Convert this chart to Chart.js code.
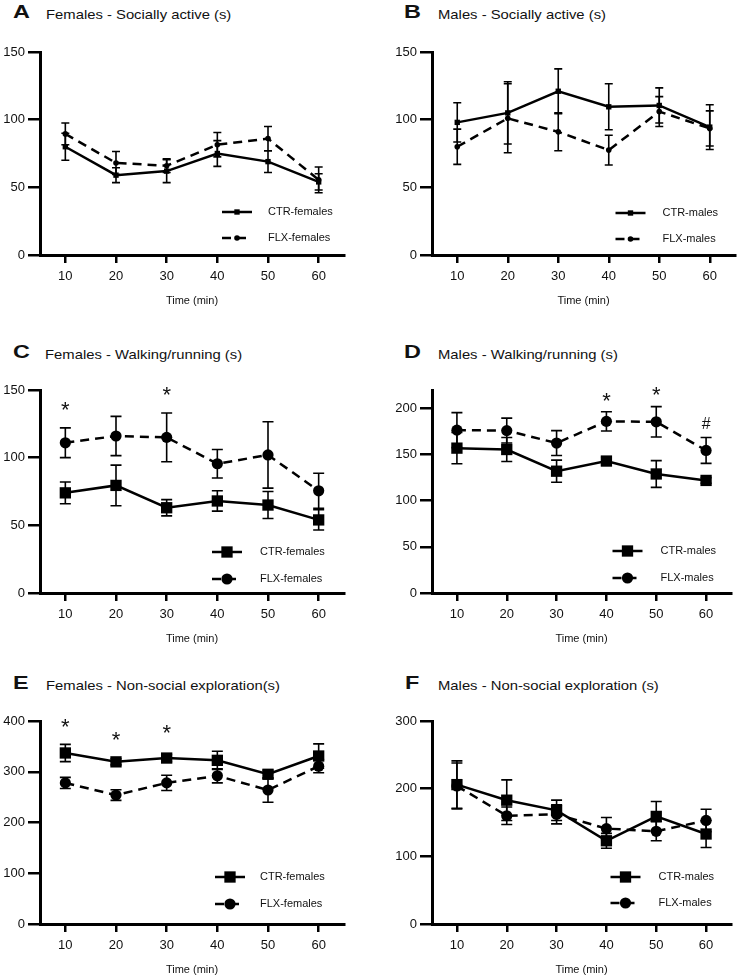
<!DOCTYPE html>
<html><head><meta charset="utf-8">
<script src="https://cdn.jsdelivr.net/npm/chart.js@4.4.0/dist/chart.umd.min.js"></script>
<style>
body{margin:0;background:#fff;width:739px;height:980px;position:relative;overflow:hidden;font-family:"Liberation Sans",Arial,sans-serif;color:#111}
canvas{position:absolute}
.lt{position:absolute;font-weight:bold;font-size:18px;line-height:24px;transform:scaleX(1.3);transform-origin:0 0;white-space:nowrap}
.tt{position:absolute;font-size:13px;line-height:24px;transform:scaleX(1.14);transform-origin:0 0;white-space:nowrap}
</style></head><body>

<div class="lt" style="left:13px;top:0px">A</div><div class="tt" style="left:46px;top:3px">Females - Socially active (s)</div>
<div class="lt" style="left:404px;top:0px">B</div><div class="tt" style="left:438px;top:3px">Males - Socially active (s)</div>
<div class="lt" style="left:13px;top:340px">C</div><div class="tt" style="left:45px;top:343px">Females - Walking/running (s)</div>
<div class="lt" style="left:404px;top:340px">D</div><div class="tt" style="left:438px;top:343px">Males - Walking/running (s)</div>
<div class="lt" style="left:13px;top:671px">E</div><div class="tt" style="left:46px;top:674px">Females - Non-social exploration(s)</div>
<div class="lt" style="left:405px;top:671px">F</div><div class="tt" style="left:438px;top:674px">Males - Non-social exploration (s)</div>

<canvas id="cA" width="370" height="280" style="left:0;top:28px"></canvas>
<canvas id="cB" width="369" height="280" style="left:370px;top:28px"></canvas>
<canvas id="cC" width="370" height="280" style="left:0;top:366px"></canvas>
<canvas id="cD" width="369" height="280" style="left:370px;top:366px"></canvas>
<canvas id="cE" width="370" height="280" style="left:0;top:697px"></canvas>
<canvas id="cF" width="369" height="280" style="left:370px;top:697px"></canvas>

<script>
// ---------- data ----------
const times = [10, 20, 30, 40, 50, 60];

const yTicksSocial = [0, 50, 100, 150];
const yTicksWalkF = [0, 50, 100, 150];
const yTicksWalkM = [0, 50, 100, 150, 200];
const yTicksExplF = [0, 100, 200, 300, 400];
const yTicksExplM = [0, 100, 200, 300];

// A: Females - Socially active
const ctrFemSocial = [80, 59, 62, 75, 69, 54];
const ctrFemSocialSem = [10, 5.5, 8.5, 9.5, 8, 6];
const flxFemSocial = [89.5, 68, 66, 81.5, 86, 55.5];
const flxFemSocialSem = [8, 8.5, 5, 9, 9, 9.5];

// B: Males - Socially active
const ctrMalSocial = [98, 105, 121, 109.5, 110.5, 94.5];
const ctrMalSocialSem = [14.5, 23, 16.5, 17, 13, 16.5];
const flxMalSocial = [80, 101, 91, 77.5, 106, 93.5];
const flxMalSocialSem = [13, 25.5, 14, 11, 11, 13];

// C: Females - Walking/running
const ctrFemWalk = [74, 79.5, 63, 68, 65, 54];
const ctrFemWalkSem = [8, 15, 6, 7.5, 10, 7.5];
const flxFemWalk = [111, 116, 115, 95.5, 102, 75.5];
const flxFemWalkSem = [11, 14.5, 18, 10.5, 24.5, 13];

// D: Males - Walking/running
const ctrMalWalk = [157, 155.5, 132, 143, 129, 122];
const ctrMalWalkSem = [17, 13, 12, 4, 14.5, 3];
const flxMalWalk = [176.5, 176, 162.5, 186, 185.5, 154.5];
const flxMalWalkSem = [19, 13.5, 13.5, 10.5, 16.5, 14];

// E: Females - Non-social exploration
const ctrFemExpl = [337, 319.5, 327, 322.5, 295, 331];
const ctrFemExplSem = [17, 6, 7, 18, 8, 24];
const flxFemExpl = [278, 254, 278, 292, 264, 311];
const flxFemExplSem = [11, 10.5, 15, 14, 24, 13];

// F: Males - Non-social exploration
const ctrMalExpl = [206, 183, 168, 123, 159, 133];
const ctrMalExplSem = [35, 30, 15, 11, 22, 20];
const flxMalExpl = [204, 160, 162, 141, 137, 153];
const flxMalExplSem = [34, 13, 14, 16.5, 14, 16.5];

// significance marks (x, y in data units)
const sigWalkFemX = [10, 30];
const sigWalkFemY = [138, 149];
const sigWalkFemText = ['*', '*'];
const sigWalkMalX = [40, 50, 60];
const sigWalkMalY = [213, 219, 183];
const sigWalkMalText = ['*', '*', '#'];
const sigExplFemX = [10, 20, 30];
const sigExplFemY = [397, 370, 384];
const sigExplFemText = ['*', '*', '*'];

// ---------- plugins ----------
const FAM = '"Liberation Sans", Arial, sans-serif';

function marker(ctx, style, r, x, y) {
  ctx.beginPath();
  if (style === 'rect') {
    const s = Math.SQRT1_2 * r;
    ctx.rect(x - s, y - s, 2 * s, 2 * s);
  } else {
    ctx.arc(x, y, r, 0, Math.PI * 2);
  }
  ctx.fill();
}

const errorBars = {
  id: 'errorBars',
  beforeDatasetsDraw(chart, args, o) {
    const {ctx, scales: {x, y}} = chart;
    const cap = (o && o.cap) || 8;
    ctx.save();
    ctx.strokeStyle = '#000';
    ctx.lineWidth = 1.6;
    chart.data.datasets.forEach(ds => {
      ds.data.forEach((p, i) => {
        const e = ds.errors[i];
        const px = x.getPixelForValue(p.x);
        const y1 = y.getPixelForValue(p.y + e);
        const y2 = y.getPixelForValue(p.y - e);
        ctx.beginPath();
        ctx.moveTo(px, y1); ctx.lineTo(px, y2);
        ctx.moveTo(px - cap / 2, y1); ctx.lineTo(px + cap / 2, y1);
        ctx.moveTo(px - cap / 2, y2); ctx.lineTo(px + cap / 2, y2);
        ctx.stroke();
      });
    });
    ctx.restore();
  }
};

const panelLegend = {
  id: 'panelLegend',
  afterDraw(chart, args, o) {
    if (!o || !o.rows) return;
    const {ctx, chartArea: {right, bottom}} = chart;
    chart.data.datasets.forEach((ds, i) => {
      const yy = bottom + o.rows[i];
      const x1 = right + o.lineStart, x2 = right + o.lineEnd;
      ctx.save();
      ctx.strokeStyle = '#000';
      ctx.fillStyle = '#000';
      ctx.lineWidth = ds.borderWidth;
      ctx.setLineDash(ds.borderDash || []);
      ctx.beginPath(); ctx.moveTo(x1, yy); ctx.lineTo(x2, yy); ctx.stroke();
      ctx.setLineDash([]);
      marker(ctx, ds.pointStyle, ds.pointRadius, (x1 + x2) / 2, yy);
      ctx.fillStyle = '#111';
      ctx.font = '11px ' + FAM;
      ctx.textBaseline = 'middle';
      ctx.textAlign = 'left';
      ctx.fillText(ds.label, right + o.textStart, yy);
      ctx.restore();
    });
  }
};

const sigMarks = {
  id: 'sigMarks',
  afterDatasetsDraw(chart, args, o) {
    if (!o || !o.x) return;
    const {ctx, scales: {x, y}} = chart;
    ctx.save();
    ctx.fillStyle = '#111';
    ctx.textAlign = 'center';
    ctx.textBaseline = 'middle';
    o.x.forEach((v, i) => {
      const isHash = o.text[i] === '#';
      ctx.font = (isHash ? '16px ' : '22px ') + FAM;
      ctx.fillText(o.text[i], x.getPixelForValue(v), y.getPixelForValue(o.y[i]) + (isHash ? 0 : 5));
    });
    ctx.restore();
  }
};

Chart.register(errorBars, panelLegend, sigMarks);

function pts(vals) { return times.map((t, i) => ({x: t, y: vals[i]})); }

function makePanel(id, cfg) {
  const big = cfg.big;
  new Chart(document.getElementById(id), {
    type: 'line',
    data: {
      datasets: [
        {label: cfg.labels[0], data: pts(cfg.ctr), errors: cfg.ctrSem,
         borderColor: '#000', backgroundColor: '#000', pointBackgroundColor: '#000', pointBorderColor: '#000',
         borderWidth: 2.5, pointStyle: 'rect', pointRadius: big ? 8 : 3.8, pointBorderWidth: 0, tension: 0, clip: false},
        {label: cfg.labels[1], data: pts(cfg.flx), errors: cfg.flxSem,
         borderColor: '#000', backgroundColor: '#000', pointBackgroundColor: '#000', pointBorderColor: '#000',
         borderWidth: 2.5, borderDash: [9, 6], pointStyle: 'circle', pointRadius: big ? 5.6 : 2.8, pointBorderWidth: 0, tension: 0, clip: false}
      ]
    },
    options: {
      responsive: false, animation: false, devicePixelRatio: 1,
      layout: {padding: {top: 24, right: cfg.padR, left: 0, bottom: 0}},
      plugins: {
        legend: {display: false}, tooltip: {enabled: false},
        errorBars: {cap: big ? 11 : 8},
        panelLegend: cfg.legend,
        sigMarks: cfg.sig || {}
      },
      scales: {
        x: {
          type: 'linear', min: 5, max: 65,
          afterBuildTicks: s => { s.ticks = times.map(v => ({value: v})); },
          afterFit: s => { s.height = 53; },
          grid: {drawOnChartArea: false, drawTicks: true, tickLength: 8, color: '#000', lineWidth: 2.5},
          border: {display: true, color: '#000', width: 3},
          ticks: {color: '#111', font: {size: 13, family: FAM}, padding: 6, maxRotation: 0, autoSkip: false},
          title: {display: true, text: 'Time (min)', color: '#111', font: {size: 11, family: FAM}, padding: 0}
        },
        y: {
          type: 'linear', min: 0, max: cfg.yMax,
          afterBuildTicks: s => { s.ticks = cfg.yTicks.map(v => ({value: v})); },
          afterFit: s => { s.width = cfg.yW; },
          grid: {drawOnChartArea: false, drawTicks: true, tickLength: 12, color: '#000', lineWidth: 2.5},
          border: {display: true, color: '#000', width: 3},
          ticks: {color: '#111', font: {size: 13, family: FAM}, padding: 3}
        }
      }
    }
  });
}

makePanel('cA', {yW: 40, padR: 26, yMax: 150, yTicks: yTicksSocial, big: false,
  ctr: ctrFemSocial, ctrSem: ctrFemSocialSem, flx: flxFemSocial, flxSem: flxFemSocialSem,
  labels: ['CTR-females', 'FLX-females'],
  legend: {rows: [-43, -17], lineStart: -122, lineEnd: -92, textStart: -76}});
makePanel('cB', {yW: 62, padR: 1.5, yMax: 150, yTicks: yTicksSocial, big: false,
  ctr: ctrMalSocial, ctrSem: ctrMalSocialSem, flx: flxMalSocial, flxSem: flxMalSocialSem,
  labels: ['CTR-males', 'FLX-males'],
  legend: {rows: [-42, -16], lineStart: -119.5, lineEnd: -89.5, textStart: -72.5}});
makePanel('cC', {yW: 40, padR: 26, yMax: 150, yTicks: yTicksWalkF, big: true,
  ctr: ctrFemWalk, ctrSem: ctrFemWalkSem, flx: flxFemWalk, flxSem: flxFemWalkSem,
  labels: ['CTR-females', 'FLX-females'],
  legend: {rows: [-41, -14], lineStart: -132, lineEnd: -102, textStart: -84},
  sig: {x: sigWalkFemX, y: sigWalkFemY, text: sigWalkFemText}});
makePanel('cD', {yW: 62, padR: 1.5, yMax: 220, yTicks: yTicksWalkM, big: true,
  ctr: ctrMalWalk, ctrSem: ctrMalWalkSem, flx: flxMalWalk, flxSem: flxMalWalkSem,
  labels: ['CTR-males', 'FLX-males'],
  legend: {rows: [-42, -15], lineStart: -118.5, lineEnd: -88.5, textStart: -70.5},
  sig: {x: sigWalkMalX, y: sigWalkMalY, text: sigWalkMalText}});
makePanel('cE', {yW: 40, padR: 26, yMax: 400, yTicks: yTicksExplF, big: true,
  ctr: ctrFemExpl, ctrSem: ctrFemExplSem, flx: flxFemExpl, flxSem: flxFemExplSem,
  labels: ['CTR-females', 'FLX-females'],
  legend: {rows: [-47, -20], lineStart: -129, lineEnd: -99, textStart: -84},
  sig: {x: sigExplFemX, y: sigExplFemY, text: sigExplFemText}});
makePanel('cF', {yW: 62, padR: 1.5, yMax: 300, yTicks: yTicksExplM, big: true,
  ctr: ctrMalExpl, ctrSem: ctrMalExplSem, flx: flxMalExpl, flxSem: flxMalExplSem,
  labels: ['CTR-males', 'FLX-males'],
  legend: {rows: [-47, -21], lineStart: -120.5, lineEnd: -90.5, textStart: -72.5}});
</script>
</body></html>
